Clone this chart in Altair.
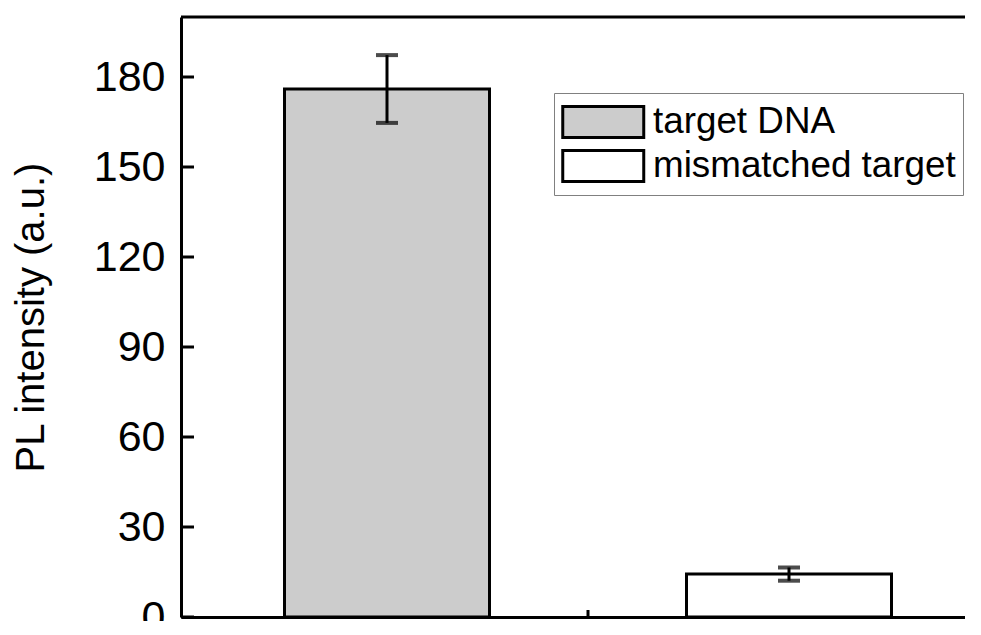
import altair as alt
import pandas as pd

# ---- data ----
categories = ["target DNA", "mismatched target"]
positions = [1, 2]
intensity = [176.0, 14.3]
errors = [11.3, 2.2]
fills = ["#CCCCCC", "#FFFFFF"]
y_ticks = [0, 30, 60, 90, 120, 150, 180]
x_minor_ticks = [1.5]
y_max = [200]

bars = pd.DataFrame({"category": categories, "pos": positions,
                     "value": intensity, "err": errors})
ticks_df = pd.DataFrame({"t": y_ticks})
xt_df = pd.DataFrame({"t": x_minor_ticks})
top_df = pd.DataFrame({"top": y_max})

FONT = "Liberation Sans"
W, H = 814, 600
xscale = alt.Scale(domain=[0.5, 2.5], nice=False, zero=False)
yscale = alt.Scale(domain=[0, 200], nice=False)

xaxis = alt.Axis(domain=True, domainColor="black", domainWidth=3, ticks=False,
                 labels=False, grid=False, title=None)
yaxis = alt.Axis(domain=True, domainColor="black", domainWidth=3, ticks=False,
                 grid=False, values=y_ticks, labelFont=FONT, labelFontSize=43,
                 labelColor="black", labelPadding=16, title="PL intensity (a.u.)",
                 titleFont=FONT, titleFontSize=40, titleFontWeight="normal",
                 titleColor="black", titlePadding=42)

base = alt.Chart(bars)

bar = base.mark_bar(size=205, stroke="black", strokeWidth=3).encode(
    x=alt.X("pos:Q", scale=xscale, axis=xaxis),
    y=alt.Y("value:Q", scale=yscale, axis=yaxis),
    fill=alt.Fill("category:N", sort=categories,
                  scale=alt.Scale(domain=categories, range=fills),
                  legend=alt.Legend(
                      title=None, orient="none", legendX=373, legendY=76,
                      strokeColor="#808080", padding=7,
                      fillColor="white",
                      symbolType="M-1,-0.76H3V0.76H-1Z", symbolSize=1640,
                      symbolStrokeColor="black", symbolStrokeWidth=3,
                      labelFont=FONT, labelFontSize=36.8, labelColor="black",
                      labelOffset=48, labelLimit=0, rowPadding=0)),
)

err_line = base.transform_calculate(
    lo="datum.value - datum.err", hi="datum.value + datum.err"
).mark_rule(color="black", strokeWidth=3).encode(
    x=alt.X("pos:Q", scale=xscale), y=alt.Y("lo:Q", scale=yscale), y2="hi:Q")

cap_lo = base.transform_calculate(lo="datum.value - datum.err").mark_tick(
    color="black", size=22, thickness=4, orient="horizontal").encode(
    x=alt.X("pos:Q", scale=xscale), y=alt.Y("lo:Q", scale=yscale))
cap_hi = base.transform_calculate(hi="datum.value + datum.err").mark_tick(
    color="black", size=22, thickness=4, orient="horizontal").encode(
    x=alt.X("pos:Q", scale=xscale), y=alt.Y("hi:Q", scale=yscale))

ytick_marks = alt.Chart(ticks_df).mark_rule(color="black", strokeWidth=3).encode(
    y=alt.Y("t:Q", scale=yscale), x=alt.value(0), x2=alt.value(13))

xtick_marks = alt.Chart(xt_df).mark_rule(color="black", strokeWidth=3).encode(
    x=alt.X("t:Q", scale=xscale), y=alt.value(H), y2=alt.value(H - 7))

top_frame = alt.Chart(top_df).mark_rule(color="black", strokeWidth=3).encode(
    y=alt.Y("top:Q", scale=yscale), x=alt.value(0), x2=alt.value(W))

chart = alt.layer(
    bar, err_line, cap_lo, cap_hi, ytick_marks, xtick_marks, top_frame
).properties(
    width=W, height=H,
    autosize=alt.AutoSizeParams(type="none"),
    padding={"left": 173, "top": 9, "right": -30, "bottom": 4},
).configure(background="white").configure_view(stroke="transparent", strokeWidth=0)

chart.save("out.html", embed_options={"renderer": "svg", "actions": False})
